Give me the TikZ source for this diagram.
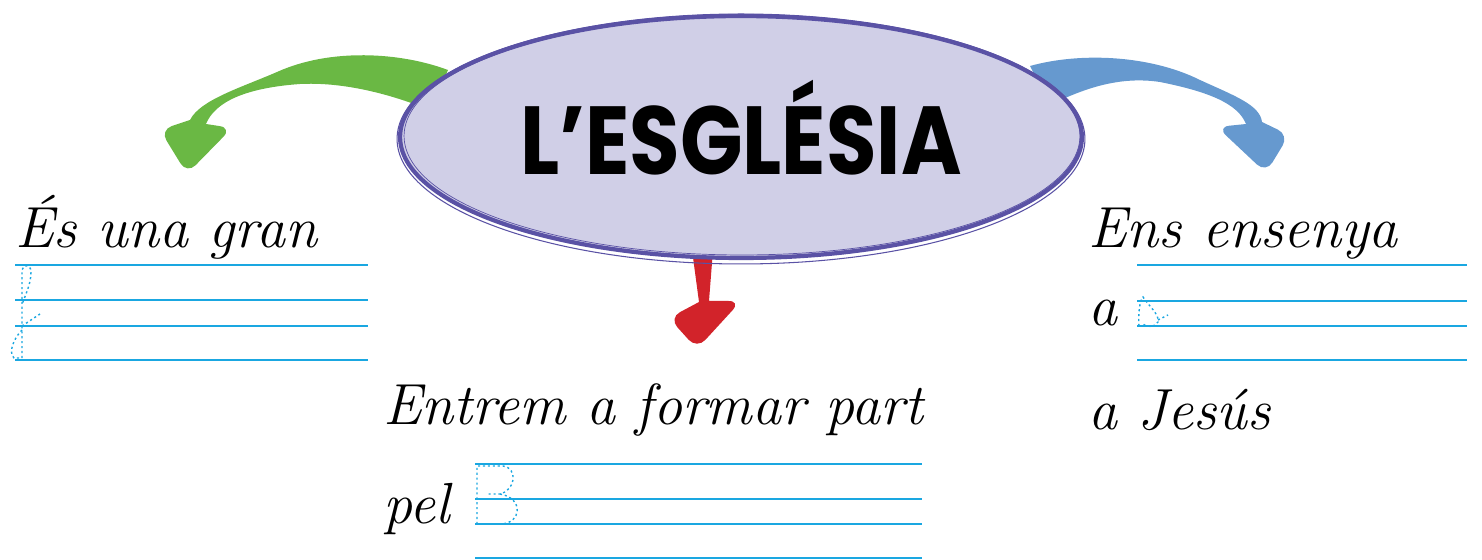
\documentclass[tikz,border=0pt]{standalone}
\usepackage{fontspec}
\newfontfamily\titlefont{Poppins}
\usetikzlibrary{shapes.geometric}
\definecolor{lila}{HTML}{D0CFE7}
\definecolor{liladark}{HTML}{5A52A5}
\definecolor{verd}{HTML}{6AB844}
\definecolor{blau}{HTML}{6699CF}
\definecolor{vermell}{HTML}{D2232A}
\definecolor{pautablau}{HTML}{1AA7E1}
\begin{document}
\begin{tikzpicture}[x=0.02cm, y=-0.02cm]
        \tikzstyle{titol_box}=[ellipse, draw=liladark, line width=2.4pt, fill=lila, minimum width=13.64cm, minimum height=4.84cm, inner sep=0pt];
        \tikzstyle{anella}=[draw=liladark, line width=0.6pt];
        \tikzstyle{pauta}=[draw=pautablau, line width=1.3pt];
        \tikzstyle{guia}=[draw=pautablau, line width=0.8pt, dash pattern=on 1.2pt off 1.6pt];
        \tikzstyle{lletra}=[anchor=base west, inner sep=0pt, font=\fontsize{33}{38}\selectfont\itshape];

        \useasboundingbox (0,0) rectangle (1482,560);

        \fill[verd] (448,70) .. controls (400,52) and (330,48) .. (277,72)
            .. controls (240,88) and (200,100) .. (190,120)
            [rounded corners=7pt] -- (160,130) -- (187,174) -- (232,128) [sharp corners] -- (206,124)
            .. controls (215,102) and (245,88) .. (300,84)
            .. controls (340,82) and (385,92) .. (430,110) -- cycle;
        \fill[blau] (1030,66) .. controls (1080,52) and (1150,55) .. (1200,80)
            .. controls (1235,96) and (1260,105) .. (1262,122)
            [rounded corners=7pt] -- (1289,135) -- (1266,173) -- (1217,127) [sharp corners] -- (1246,124)
            .. controls (1238,104) and (1210,92) .. (1160,82)
            .. controls (1120,76) and (1085,88) .. (1050,105) -- cycle;
        \fill[vermell] (692,250) -- (699,302) [rounded corners=7pt] -- (669,318) -- (697,349) -- (741,301) [sharp corners] -- (709,301) -- (713,250) -- cycle;

        \node[titol_box] (titol) at (741,137) {\titlefont\bfseries\fontsize{55}{60}\selectfont\raisebox{0.38cm}{\scalebox{0.85}[1]{L’ESGLÉSIA}}};
        \draw[anella] ([shift={(0,2)}]titol.center) ellipse [x radius=6.88cm, y radius=2.5cm];
        \draw[anella, line width=0.4pt] ([shift={(1,-1)}]titol.center) ellipse [x radius=6.76cm, y radius=2.38cm];

        \node[lletra] (text_fam) at (15,248) {És una gran};
        \node[lletra] (text_part) at (383,425) {Entrem a formar part};
        \node[lletra] (text_pel) at (383,524) {pel};
        \node[lletra] (text_ens) at (1088,248) {Ens ensenya};
        \node[lletra] (text_a) at (1088,326) {a};
        \node[lletra] (text_jesus) at (1088,430) {a Jesús};

        \foreach \y in {265,300,326,360} \draw[pauta] (15,\y) -- (368,\y);
        \foreach \y in {464,499,524,558} \draw[pauta] (475,\y) -- (922,\y);
        \foreach \y in {265,301,326,360} \draw[pauta] (1137,\y) -- (1467,\y);

        \draw[guia] (22,358) -- (22,270) .. controls (23,264) and (31,264) .. (31,272) .. controls (31,285) and (25,295) .. (22,305);
        \draw[guia] (22,330) .. controls (14,338) and (8,352) .. (14,358) -- (22,358);
        \draw[guia] (22,326) -- (40,314);
        \draw[guia] (477,524) -- (477,466) -- (503,466) .. controls (518,468) and (516,490) .. (500,494) -- (488,494);
        \draw[guia] (500,494) .. controls (524,498) and (522,524) .. (500,524) -- (477,524);
        \draw[guia] (1139,326) .. controls (1138,312) and (1140,300) .. (1143,297) .. controls (1148,305) and (1160,315) .. (1158,322) .. controls (1155,328) and (1145,327) .. (1143,324);
        \draw[guia] (1158,320) -- (1168,315);
    \end{tikzpicture}
\end{document}
